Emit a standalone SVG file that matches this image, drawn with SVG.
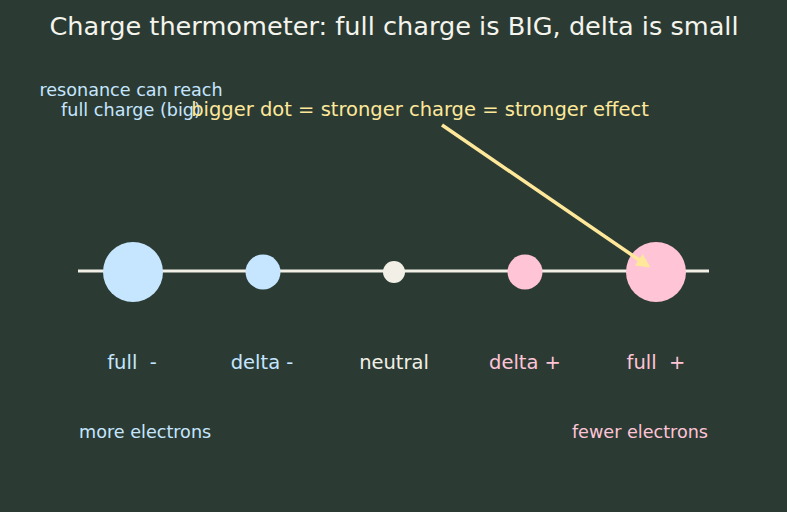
<svg xmlns="http://www.w3.org/2000/svg" width="787" height="512" viewBox="0 0 787 512">
<defs>
<marker id="ah" viewBox="0 0 10 10" refX="8" refY="5" markerWidth="4" markerHeight="4" orient="auto" markerUnits="strokeWidth"><path d="M0,0 L10,5 L0,10 z" fill="#ffe89a"/></marker>
<style>
text{font-family:"DejaVu Sans",sans-serif;white-space:pre;}
.blue{fill:#c6e6ff}.pink{fill:#ffc4d6}.neu{fill:#f2f0e6}
.lbl{font-size:19.5px;text-anchor:middle}
.sm{font-size:17.6px}
</style>
</defs>
<rect width="787" height="512" fill="#2b3b34"/>
<text x="394" y="35" text-anchor="middle" font-size="25.6" fill="#f4f4ec">Charge thermometer: full charge is BIG, delta is small</text>
<g id="axis"><line x1="78" y1="271" x2="709" y2="271" stroke="#f2f0e6" stroke-width="3"/></g>
<g id="full-neg"><circle cx="133" cy="272" r="30" class="blue"/><text x="132" y="369" class="lbl blue" xml:space="preserve">full  -</text></g>
<g id="delta-neg"><circle cx="263" cy="272" r="17.5" class="blue"/><text x="262" y="369" class="lbl blue">delta -</text></g>
<g id="neutral"><circle cx="394" cy="272" r="11" class="neu"/><text x="394" y="369" class="lbl neu">neutral</text></g>
<g id="delta-pos"><circle cx="525" cy="272" r="17.5" class="pink"/><text x="525" y="369" class="lbl pink">delta +</text></g>
<g id="full-pos"><circle cx="656" cy="272" r="30" class="pink"/><text x="656" y="369" class="lbl pink" xml:space="preserve">full  +</text></g>
<text x="79" y="438" class="sm blue">more electrons</text>
<text x="708" y="438" class="sm pink" text-anchor="end">fewer electrons</text>
<text x="131" y="96" class="sm blue" text-anchor="middle">resonance can reach</text>
<text x="131" y="116" class="sm blue" text-anchor="middle">full charge (big)</text>
<text x="420" y="116" font-size="19.5" text-anchor="middle" fill="#ffe89a">bigger dot = stronger charge = stronger effect</text>
<g id="connectors"><line x1="442" y1="125" x2="648" y2="266" stroke="#ffe89a" stroke-width="3.5" marker-end="url(#ah)"/></g>
</svg>
